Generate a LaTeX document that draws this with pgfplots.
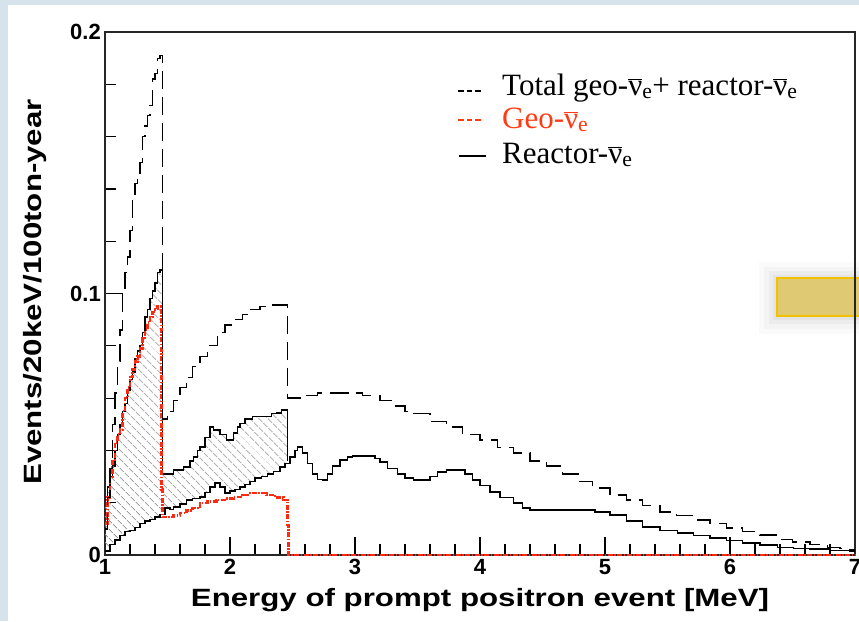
\documentclass[border=0pt]{standalone}
\usepackage{graphicx}
\usepackage{pgfplots}
\pgfplotsset{compat=1.18}
\usetikzlibrary{patterns.meta}
\usepackage{fontspec}
\setmainfont{Liberation Serif}
\newfontfamily\arial{Liberation Sans}
\definecolor{bgblue}{HTML}{D6E3EA}
\definecolor{geored}{HTML}{FF2A10}
\definecolor{legred}{HTML}{FF3B14}
\definecolor{boxfill}{HTML}{DFCA73}
\definecolor{boxedge}{HTML}{F2C200}
\newcommand{\nue}{\ensuremath{\overline{\hbox{ν}}}\textsubscript{e}}

\pgfplotstableread{
x y
1.00 0.010
1.02 0.022
1.04 0.033
1.06 0.050
1.08 0.062
1.10 0.074
1.12 0.086
1.14 0.100
1.16 0.108
1.18 0.114
1.20 0.124
1.22 0.138
1.24 0.142
1.26 0.145
1.28 0.150
1.30 0.160
1.32 0.164
1.34 0.168
1.36 0.172
1.38 0.182
1.40 0.184
1.42 0.190
1.44 0.191
1.46 0.052
1.50 0.055
1.55 0.059
1.60 0.064
1.65 0.068
1.70 0.072
1.76 0.076
1.82 0.080
1.90 0.085
1.96 0.088
2.02 0.090
2.10 0.092
2.16 0.094
2.24 0.095
2.30 0.0956
2.46 0.060
2.60 0.061
2.70 0.062
2.80 0.062
2.94 0.062
3.06 0.061
3.20 0.059
3.30 0.057
3.40 0.055
3.47 0.054
3.60 0.051
3.73 0.049
3.86 0.046
4.00 0.044
4.14 0.041
4.27 0.039
4.40 0.036
4.53 0.034
4.66 0.031
4.80 0.028
4.90 0.0256
5.04 0.023
5.17 0.021
5.30 0.019
5.44 0.0165
5.57 0.015
5.71 0.0134
5.84 0.012
5.97 0.0103
6.10 0.009
6.24 0.0076
6.37 0.006
6.50 0.005
6.64 0.004
6.78 0.003
6.88 0.0025
6.96 0.002
7.00 0.002
}\totaltab

\pgfplotstableread{
x y
1.00 0.012
1.02 0.022
1.04 0.030
1.06 0.036
1.08 0.043
1.10 0.046
1.12 0.048
1.14 0.055
1.16 0.060
1.18 0.064
1.20 0.068
1.22 0.071
1.24 0.074
1.26 0.076
1.28 0.079
1.30 0.083
1.32 0.086
1.34 0.089
1.36 0.091
1.38 0.093
1.40 0.094
1.42 0.095
1.44 0.095
1.45 0.025
1.46 0.0145
1.50 0.0145
1.55 0.015
1.60 0.016
1.65 0.017
1.70 0.018
1.76 0.0199
1.82 0.0205
1.89 0.021
1.96 0.0215
2.03 0.0222
2.10 0.023
2.16 0.0237
2.22 0.0237
2.29 0.023
2.36 0.022
2.43 0.021
2.46 0.0115
2.47 0.0
7.00 0.0
}\geotab

\pgfplotstableread{
x y
1.00 0.0015
1.04 0.004
1.08 0.0057
1.12 0.0075
1.16 0.0090
1.20 0.0095
1.24 0.0105
1.28 0.012
1.32 0.013
1.36 0.0135
1.40 0.0145
1.44 0.0155
1.48 0.018
1.52 0.0175
1.55 0.0184
1.60 0.0195
1.65 0.021
1.70 0.0215
1.76 0.0222
1.80 0.024
1.84 0.026
1.88 0.0275
1.92 0.026
1.96 0.0237
2.00 0.0245
2.04 0.025
2.08 0.026
2.12 0.027
2.16 0.028
2.20 0.0295
2.25 0.030
2.30 0.031
2.35 0.032
2.40 0.0337
2.44 0.035
2.48 0.0375
2.52 0.040
2.54 0.0413
2.58 0.039
2.62 0.035
2.66 0.031
2.70 0.029
2.74 0.0287
2.78 0.031
2.82 0.034
2.88 0.0363
2.94 0.0375
2.98 0.0379
3.12 0.0379
3.16 0.037
3.20 0.0356
3.26 0.033
3.34 0.031
3.40 0.0295
3.47 0.0287
3.54 0.0287
3.60 0.030
3.66 0.0318
3.73 0.0325
3.82 0.0325
3.88 0.031
3.94 0.0287
4.00 0.0265
4.08 0.0241
4.16 0.022
4.27 0.0199
4.34 0.018
4.40 0.0172
4.86 0.0172
4.92 0.0165
5.04 0.0153
5.17 0.013
5.30 0.0107
5.44 0.0095
5.58 0.0084
5.71 0.0075
5.84 0.0065
5.97 0.0055
6.10 0.0046
6.24 0.0038
6.38 0.003
6.51 0.0026
6.64 0.0023
6.80 0.0018
6.96 0.0015
7.00 0.0015
}\reactab

\pgfplotstableread{
x y
1.00 0.021
1.02 0.026
1.04 0.030
1.06 0.034
1.08 0.040
1.10 0.046
1.12 0.050
1.14 0.055
1.16 0.058
1.18 0.063
1.20 0.067
1.22 0.070
1.24 0.075
1.26 0.078
1.28 0.080
1.30 0.085
1.32 0.091
1.34 0.094
1.36 0.098
1.38 0.101
1.40 0.104
1.42 0.108
1.44 0.109
1.46 0.031
1.55 0.0325
1.63 0.0337
1.68 0.036
1.71 0.0375
1.74 0.040
1.76 0.0413
1.80 0.045
1.84 0.049
1.87 0.0478
1.92 0.046
1.97 0.044
2.03 0.0466
2.06 0.049
2.08 0.0504
2.12 0.052
2.18 0.053
2.29 0.053
2.33 0.054
2.37 0.0543
2.41 0.0555
2.46 0.036
}\uppertab

% band outline: upper edge, then reactor edge walked back from 2.46 to 1.00
\pgfplotstableread{
x y
1.00 0.021
1.02 0.026
1.04 0.030
1.06 0.034
1.08 0.040
1.10 0.046
1.12 0.050
1.14 0.055
1.16 0.058
1.18 0.063
1.20 0.067
1.22 0.070
1.24 0.075
1.26 0.078
1.28 0.080
1.30 0.085
1.32 0.091
1.34 0.094
1.36 0.098
1.38 0.101
1.40 0.104
1.42 0.108
1.44 0.109
1.46 0.031
1.55 0.0325
1.63 0.0337
1.68 0.036
1.71 0.0375
1.74 0.040
1.76 0.0413
1.80 0.045
1.84 0.049
1.87 0.0478
1.92 0.046
1.97 0.044
2.03 0.0466
2.06 0.049
2.08 0.0504
2.12 0.052
2.18 0.053
2.29 0.053
2.33 0.054
2.37 0.0543
2.41 0.0555
2.46 0.036
2.46 0.035
2.44 0.0337
2.40 0.032
2.35 0.031
2.30 0.030
2.25 0.0295
2.20 0.028
2.16 0.027
2.12 0.026
2.08 0.025
2.04 0.0245
2.00 0.0237
1.96 0.026
1.92 0.0275
1.88 0.026
1.84 0.024
1.80 0.0222
1.76 0.0215
1.70 0.021
1.65 0.0195
1.60 0.0184
1.55 0.0175
1.52 0.018
1.48 0.0155
1.44 0.0145
1.40 0.0135
1.36 0.013
1.32 0.012
1.28 0.0105
1.24 0.0095
1.20 0.0090
1.16 0.0075
1.12 0.0057
1.08 0.004
1.04 0.0015
1.00 0.0015
}\bandtab

\begin{document}
\begin{tikzpicture}
\fill[bgblue] (0,0) rectangle (859pt,-621pt);
\fill[white] (8pt,-5pt) rectangle (859pt,-621pt);
% highlighted box of the slide, with its soft shadow
\fill[black, opacity=0.02] (759pt,-262pt) rectangle (859pt,-334pt);
\fill[black, opacity=0.025] (764pt,-267pt) rectangle (859pt,-329pt);
\fill[black, opacity=0.03] (769pt,-271pt) rectangle (859pt,-324pt);
\fill[black, opacity=0.035] (773pt,-275pt) rectangle (859pt,-320pt);
\filldraw[fill=boxfill, draw=boxedge, line width=2.5pt] (777pt,-278pt) rectangle (880pt,-316pt);
\begin{axis}[
  at={(105pt,-555pt)}, anchor=south west,
  scale only axis, width=750pt, height=523pt,
  xmin=1, xmax=7, ymin=0, ymax=0.2,
  clip=false,
  axis line style={line width=1.6pt, black!85},
  xtick={1,2,3,4,5,6,7}, xticklabels={1,2,3,4,5,6,7},
  ytick={0,0.1,0.2}, yticklabels={0,0.1,0.2},
  minor x tick num=4, minor y tick num=4,
  tick align=inside, xtick pos=bottom, ytick pos=left,
  major tick length=18pt, minor tick length=11pt,
  tick style={line width=1.2pt, black},
  ticklabel style={font=\arial\bfseries\fontsize{22}{22}\selectfont},
  xticklabel style={inner sep=4pt},
  yticklabel style={inner sep=4pt},
  xlabel={\scalebox{1.25}[1]{Energy of prompt positron event [MeV]}},
  ylabel={\scalebox{1.25}[1]{Events/20keV/100ton-year}},
  label style={font=\arial\bfseries\fontsize{25}{25}\selectfont},
  xlabel style={at={(axis description cs:0.5,-0.086)}, anchor=center},
  ylabel style={at={(axis description cs:-0.093,0.503)}, anchor=center},
]
\addplot[draw=none, pattern={Lines[angle=-45,distance=6.5pt,line width=1.1pt]}, pattern color=black!42, const plot mark left, forget plot] table {\bandtab};
\addplot[black, line width=1.3pt, const plot mark left] table {\reactab};
\addplot[black, line width=1.3pt, const plot mark left] table {\uppertab};
\addplot[geored, line width=2.6pt, const plot mark left, dash pattern=on 5pt off 1.5pt on 1.5pt off 1.5pt] table {\geotab};
\addplot[black, line width=1.3pt, const plot mark left, dash pattern=on 18pt off 8pt] table {\totaltab};
\end{axis}
\draw[line width=2pt, dash pattern=on 5.5pt off 3pt] (458pt,-91pt) -- (481pt,-91pt);
\draw[line width=2pt, legred, dash pattern=on 5.5pt off 3pt] (458pt,-120pt) -- (481pt,-120pt);
\draw[line width=2.6pt] (459pt,-156pt) -- (486pt,-156pt);
\begin{scope}[font=\fontsize{31}{31}\selectfont]
\node[anchor=base west, inner sep=0pt] at (502pt,-95pt) {Total geo-\nue+ reactor-\nue};
\node[anchor=base west, inner sep=0pt, text=legred] at (502pt,-128pt) {Geo-\nue};
\node[anchor=base west, inner sep=0pt] at (502pt,-163pt) {Reactor-\nue};
\end{scope}
\pgfresetboundingbox
\useasboundingbox (0,0) rectangle (859pt,-621pt);
\end{tikzpicture}
\end{document}
